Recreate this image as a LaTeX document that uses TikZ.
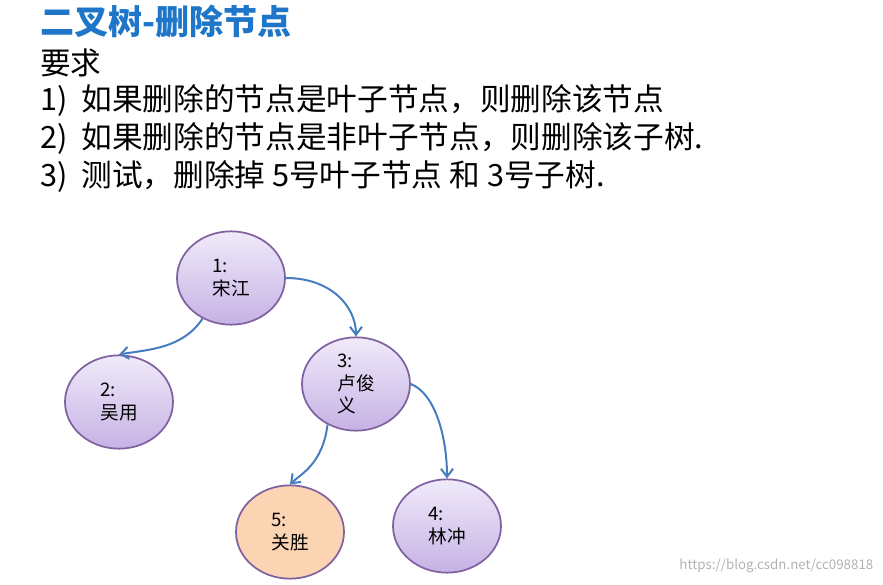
\documentclass[tikz,border=0pt]{standalone}
\usepackage{fontspec}
\setmainfont{Noto Sans CJK SC}
\usetikzlibrary{arrows.meta,shadings,shapes.geometric}
\definecolor{titleblue}{RGB}{31,118,200}
\definecolor{edgeblue}{RGB}{70,125,190}
\definecolor{rimpurple}{RGB}{128,98,160}
\definecolor{lavtop}{RGB}{240,234,250}
\definecolor{lavbot}{RGB}{198,178,228}
\definecolor{peach}{RGB}{251,212,180}
\begin{document}
\begin{tikzpicture}
  [
    x=0.75pt, y=-0.75pt,
    tnode/.style =
      {ellipse, draw=rimpurple, line width=1.3pt, minimum width=81pt, minimum height=70pt,
       top color=lavtop, bottom color=lavbot, align=left, font=\fontsize{14}{17}\selectfont, inner sep=1pt},
    leaf/.style =
      {tnode, fill=peach, top color=peach, bottom color=peach},
    link/.style =
      {-{Straight Barb[length=6pt,width=9pt]}, draw=edgeblue, line width=1.5pt},
    txt/.style =
      {anchor=west, inner sep=0pt, font=\fontsize{23}{26}\selectfont}
  ]
  \useasboundingbox (0,0) rectangle (883,585);

  \node [txt, text=titleblue, font=\bfseries\fontsize{25.5}{28}\selectfont] at (40,22) (title) {二叉树-删除节点};
  \node [txt] at (40,63)  (req) {要求};
  \node [txt] at (40,101) (r1)  {1)\ \ 如果删除的节点是叶子节点，则删除该节点};
  \node [txt] at (40,139) (r2)  {2)\ \ 如果删除的节点是非叶子节点，则删除该子树.};
  \node [txt] at (40,177) (r3)  {3)\ \ 测试，删除掉 5号叶子节点 和 3号子树.};

  \node [tnode] at (231,278) (n1) {1:\\宋江};
  \node [tnode] at (119,402) (n2) {2:\\吴用};
  \node [tnode] at (356,384) (n3) {3:\\卢俊\\义};
  \node [leaf]  at (290,532) (n5) {5:\\关胜};
  \node [tnode] at (447,526) (n4) {4:\\林冲};

  \draw [link] (n1.235) .. controls +(-20,30) and +(30,-5) .. (n2.north);
  \draw [link] (n1.east) .. controls +(45,0) and +(0,-30) .. (n3.north);
  \draw [link] (n3.235) .. controls +(-5,40) and +(10,-10) .. (n5.north);
  \draw [link] (n3.east) .. controls +(25,10) and +(0,-40) .. (n4.north);

  \node [anchor=east, text=gray!60, font=\fontsize{10}{12}\selectfont] at (878,566) (mark) {https://blog.csdn.net/cc098818};
\end{tikzpicture}
\end{document}
